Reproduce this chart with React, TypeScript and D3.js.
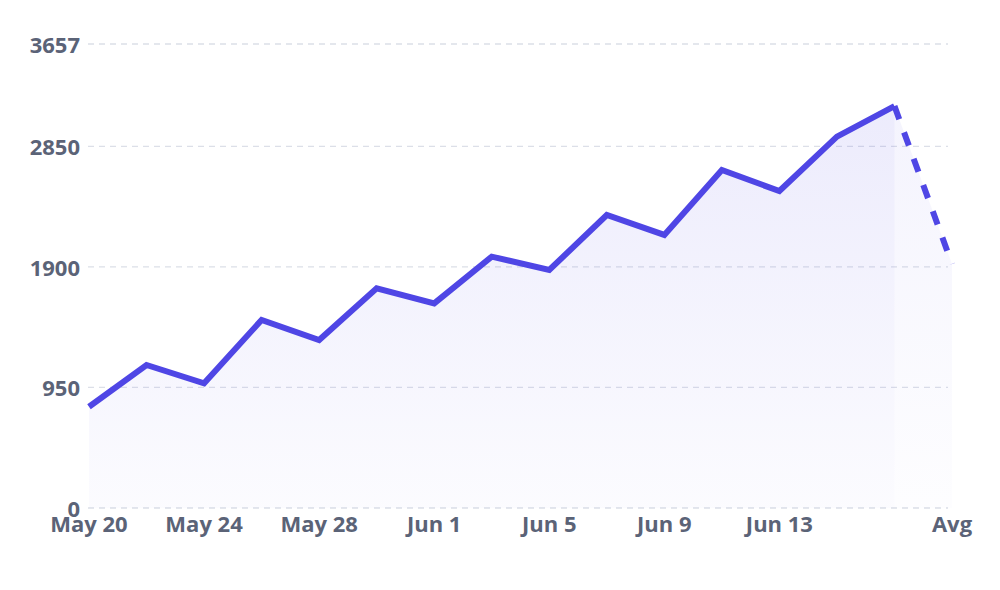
import React from "react";
import * as d3 from "d3";

const categories = [
  "May 20", "May 22", "May 24", "May 26", "May 28", "May 30",
  "Jun 1", "Jun 3", "Jun 5", "Jun 7", "Jun 9", "Jun 11",
  "Jun 13", "Jun 15", "Jun 17", "Avg",
];
const values = [
  798, 1127, 983, 1482, 1324, 1732, 1613, 1981, 1876, 2309, 2152, 2664,
  2498, 2927, 3168, 1923,
];
const xTickLabels = ["May 20", "May 24", "May 28", "Jun 1", "Jun 5", "Jun 9", "Jun 13", "Avg"];
const yTicks = [0, 950, 1900, 2850, 3657];

const W = 1000;
const H = 590;
const LINE = "#4f46e5";
const TEXT = "#5b6377";
const FONT = "'Open Sans', 'Noto Sans', sans-serif";

export default function App() {
  const x = d3.scalePoint<string>().domain(categories).range([89, 952]);
  const y = d3.scaleLinear().domain([0, 3657]).range([508, 44]);

  const pts = categories.map((c, i) => ({ c, v: values[i] }));
  const main = pts.slice(0, pts.length - 1);
  const tail = pts.slice(pts.length - 2);

  const line = d3
    .line<{ c: string; v: number }>()
    .x((d) => x(d.c)!)
    .y((d) => y(d.v));
  const area = d3
    .area<{ c: string; v: number }>()
    .x((d) => x(d.c)!)
    .y0(y(0))
    .y1((d) => y(d.v));

  return (
    <svg
      width={W}
      height={H}
      style={{ position: "absolute", left: 0, top: 0, display: "block", background: "#fff" }}
    >
      <defs>
        <linearGradient id="g1" x1="0" y1={y(3657)} x2="0" y2={y(0)} gradientUnits="userSpaceOnUse">
          <stop offset="0" stopColor={LINE} stopOpacity={0.12} />
          <stop offset="1" stopColor={LINE} stopOpacity={0.02} />
        </linearGradient>
        <linearGradient id="g2" x1="0" y1={y(3657)} x2="0" y2={y(0)} gradientUnits="userSpaceOnUse">
          <stop offset="0" stopColor={LINE} stopOpacity={0.07} />
          <stop offset="1" stopColor={LINE} stopOpacity={0.01} />
        </linearGradient>
      </defs>
      {yTicks.map((t) => (
        <g key={t}>
          <line
            x1={88}
            x2={948}
            y1={y(t)}
            y2={y(t)}
            stroke="#dcdfe8"
            strokeWidth={1.3}
            strokeDasharray="6 5"
          />
          <text
            x={80}
            y={y(t)}
            textAnchor="end"
            dominantBaseline="central"
            fontFamily={FONT}
            fontWeight={700}
            fontSize={22}
            fill={TEXT}
          >
            {t}
          </text>
        </g>
      ))}
      <path d={area(main)!} fill="url(#g1)" />
      <path d={area(tail)!} fill="url(#g2)" />
      <path
        d={line(main)!}
        fill="none"
        stroke={LINE}
        strokeWidth={6}
        strokeLinejoin="miter"
        strokeLinecap="butt"
      />
      <path
        d={line(tail)!}
        fill="none"
        stroke={LINE}
        strokeWidth={6}
        strokeDasharray="14 14"
        strokeLinecap="butt"
      />
      {xTickLabels.map((l) => (
        <text
          key={l}
          x={x(l)!}
          y={532}
          textAnchor="middle"
          fontFamily={FONT}
          fontWeight={700}
          fontSize={22}
          fill={TEXT}
        >
          {l}
        </text>
      ))}
    </svg>
  );
}
